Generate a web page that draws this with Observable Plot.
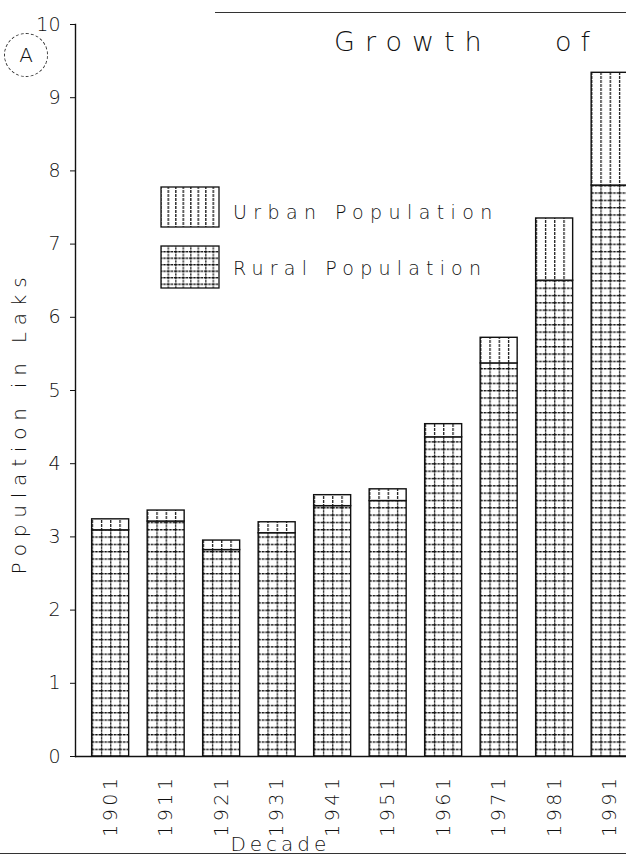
<!DOCTYPE html>
<html>
<head>
<meta charset="utf-8">
<script src="https://cdn.jsdelivr.net/npm/d3@7"></script>
<script src="https://cdn.jsdelivr.net/npm/@observablehq/plot@0.6"></script>
<style>
  html, body { margin: 0; padding: 0; background: #fff; overflow: hidden; }
  #wrap { position: relative; width: 626px; height: 861px; overflow: hidden; font-family: "DejaVu Sans", "Liberation Sans", sans-serif; color: #111; }
  #chart { position: absolute; left: 0; top: 0; width: 650px; height: 861px; }
  #chart svg { max-width: none !important; width: 650px !important; height: 861px !important; }
  .ov { position: absolute; white-space: nowrap; font-weight: 200; color: #111; }
  #chart g[aria-label="x-axis tick label"] text { letter-spacing: 3.5px; font-size: 19px; }
  #chart g[aria-label="y-axis tick label"] text { font-size: 19px; }
  #chart g[aria-label="y-axis label"] text { letter-spacing: 6.8px; font-size: 20px; }
  #chart g[aria-label="x-axis label"] text { letter-spacing: 4px; font-size: 20px; }
</style>
</head>
<body>
<svg width="0" height="0" style="position:absolute">
  <defs>
    <pattern id="rural" patternUnits="userSpaceOnUse" x="91.65" y="24" width="9.25" height="7.32">
      <rect width="9.25" height="7.32" fill="#fff"/>
      <path d="M0,0.6H9.25" stroke="#111" stroke-width="1.4" stroke-dasharray="2.6,0.9"/>
      <path d="M0.6,0V7.32" stroke="#111" stroke-width="1.3" stroke-dasharray="2.2,0.8"/>
    </pattern>
    <pattern id="urban" patternUnits="userSpaceOnUse" x="91.65" y="0" width="9.25" height="8">
      <rect width="9.25" height="8" fill="#fff"/>
      <path d="M0.6,0V8" stroke="#111" stroke-width="1.3" stroke-dasharray="3,1"/>
    </pattern>
    <pattern id="urbanL" patternUnits="userSpaceOnUse" x="0" y="0" width="7.5" height="8">
      <rect width="7.5" height="8" fill="#fff"/>
      <path d="M0.8,0V8" stroke="#111" stroke-width="1.3" stroke-dasharray="3,1"/>
    </pattern>
    <pattern id="ruralL" patternUnits="userSpaceOnUse" x="0" y="0" width="7.5" height="6.5">
      <rect width="7.5" height="6.5" fill="#fff"/>
      <path d="M0,0.6H7.5" stroke="#111" stroke-width="1.4" stroke-dasharray="2.4,0.8"/>
      <path d="M0.8,0V6.5" stroke="#111" stroke-width="1.3" stroke-dasharray="2.2,0.8"/>
    </pattern>
  </defs>
</svg>
<div id="wrap">
  <div id="chart"></div>
  <div class="ov" style="left:215px; top:12px; width:420px; height:0; border-top:1.5px solid #333;"></div>
  <div class="ov" style="left:0; top:853px; width:626px; height:0; border-top:1.5px solid #333;"></div>
  <div class="ov" style="left:334px; top:26px; font-size:27px; letter-spacing:10px;">Growth</div>
  <div class="ov" style="left:555px; top:26px; font-size:27px; letter-spacing:9px;">of</div>
  <div class="ov" style="left:4px; top:33px; width:42px; height:42px; border:1.5px dashed #333; border-radius:50%; font-size:20px; line-height:42px; text-align:center;">A</div>
  <svg class="ov" style="left:160px; top:186px;" width="62" height="104">
    <rect x="1" y="1" width="58" height="40" fill="url(#urbanL)" stroke="#111" stroke-width="1.3"/>
    <rect x="1" y="60" width="58" height="42" fill="url(#ruralL)" stroke="#111" stroke-width="1.3"/>
  </svg>
  <div class="ov" style="left:233px; top:201px; font-size:19px; letter-spacing:6.4px;">Urban Population</div>
  <div class="ov" style="left:233px; top:257px; font-size:19px; letter-spacing:6.2px;">Rural Population</div>
</div>
<script>
const decades = ["1901", "1911", "1921", "1931", "1941", "1951", "1961", "1971", "1981", "1991"];
const rural = [3.09, 3.21, 2.82, 3.05, 3.42, 3.49, 4.36, 5.37, 6.50, 7.80];
const urban = [0.15, 0.15, 0.13, 0.15, 0.15, 0.16, 0.18, 0.35, 0.85, 1.54];
const yTicks = [0, 1, 2, 3, 4, 5, 6, 7, 8, 9, 10];
const seriesNames = ["Rural", "Urban"];

const rows = decades.flatMap((d, i) => [
  {decade: d, series: "Rural", value: rural[i]},
  {decade: d, series: "Urban", value: urban[i]}
]);

const chart = Plot.plot({
  width: 650,
  height: 861,
  marginLeft: 75,
  marginRight: 5.2,
  marginTop: 24,
  marginBottom: 105,
  style: {fontFamily: "DejaVu Sans, Liberation Sans, sans-serif", fontSize: "18px", fontWeight: 200, color: "#111", background: "transparent", maxWidth: "none"},
  x: {domain: decades, paddingInner: 1/3, paddingOuter: 0.3, round: false, label: null},
  y: {domain: [0, 10], label: null},
  color: {type: "ordinal", domain: seriesNames, range: ["url(#rural)", "url(#urban)"]},
  marks: [
    Plot.barY(rows, {x: "decade", y: "value", fill: "series", z: "series", stroke: "#111", strokeWidth: 1.4}),
    Plot.frame({anchor: "left", stroke: "#111", strokeWidth: 1.4, strokeDasharray: "6,1.5"}),
    Plot.ruleY([0], {stroke: "#111", strokeWidth: 1.7}),
    Plot.axisY({ticks: yTicks, tickSize: 5, tickPadding: 10, tickFormat: d => String(d), label: "Population in Laks", labelAnchor: "center", labelArrow: "none", labelOffset: 64}),
    Plot.axisX({tickSize: 0, tickPadding: 18, tickRotate: -90, label: "Decade", labelAnchor: "center", labelArrow: "none", labelOffset: 94})
  ]
});
const xl = chart.querySelector('g[aria-label="x-axis label"] text');
if (xl) xl.setAttribute("dx", "-80");
const yl = chart.querySelector('g[aria-label="y-axis label"] text');
if (yl) yl.setAttribute("dx", "-32");
document.getElementById("chart").appendChild(chart);
</script>
</body>
</html>
